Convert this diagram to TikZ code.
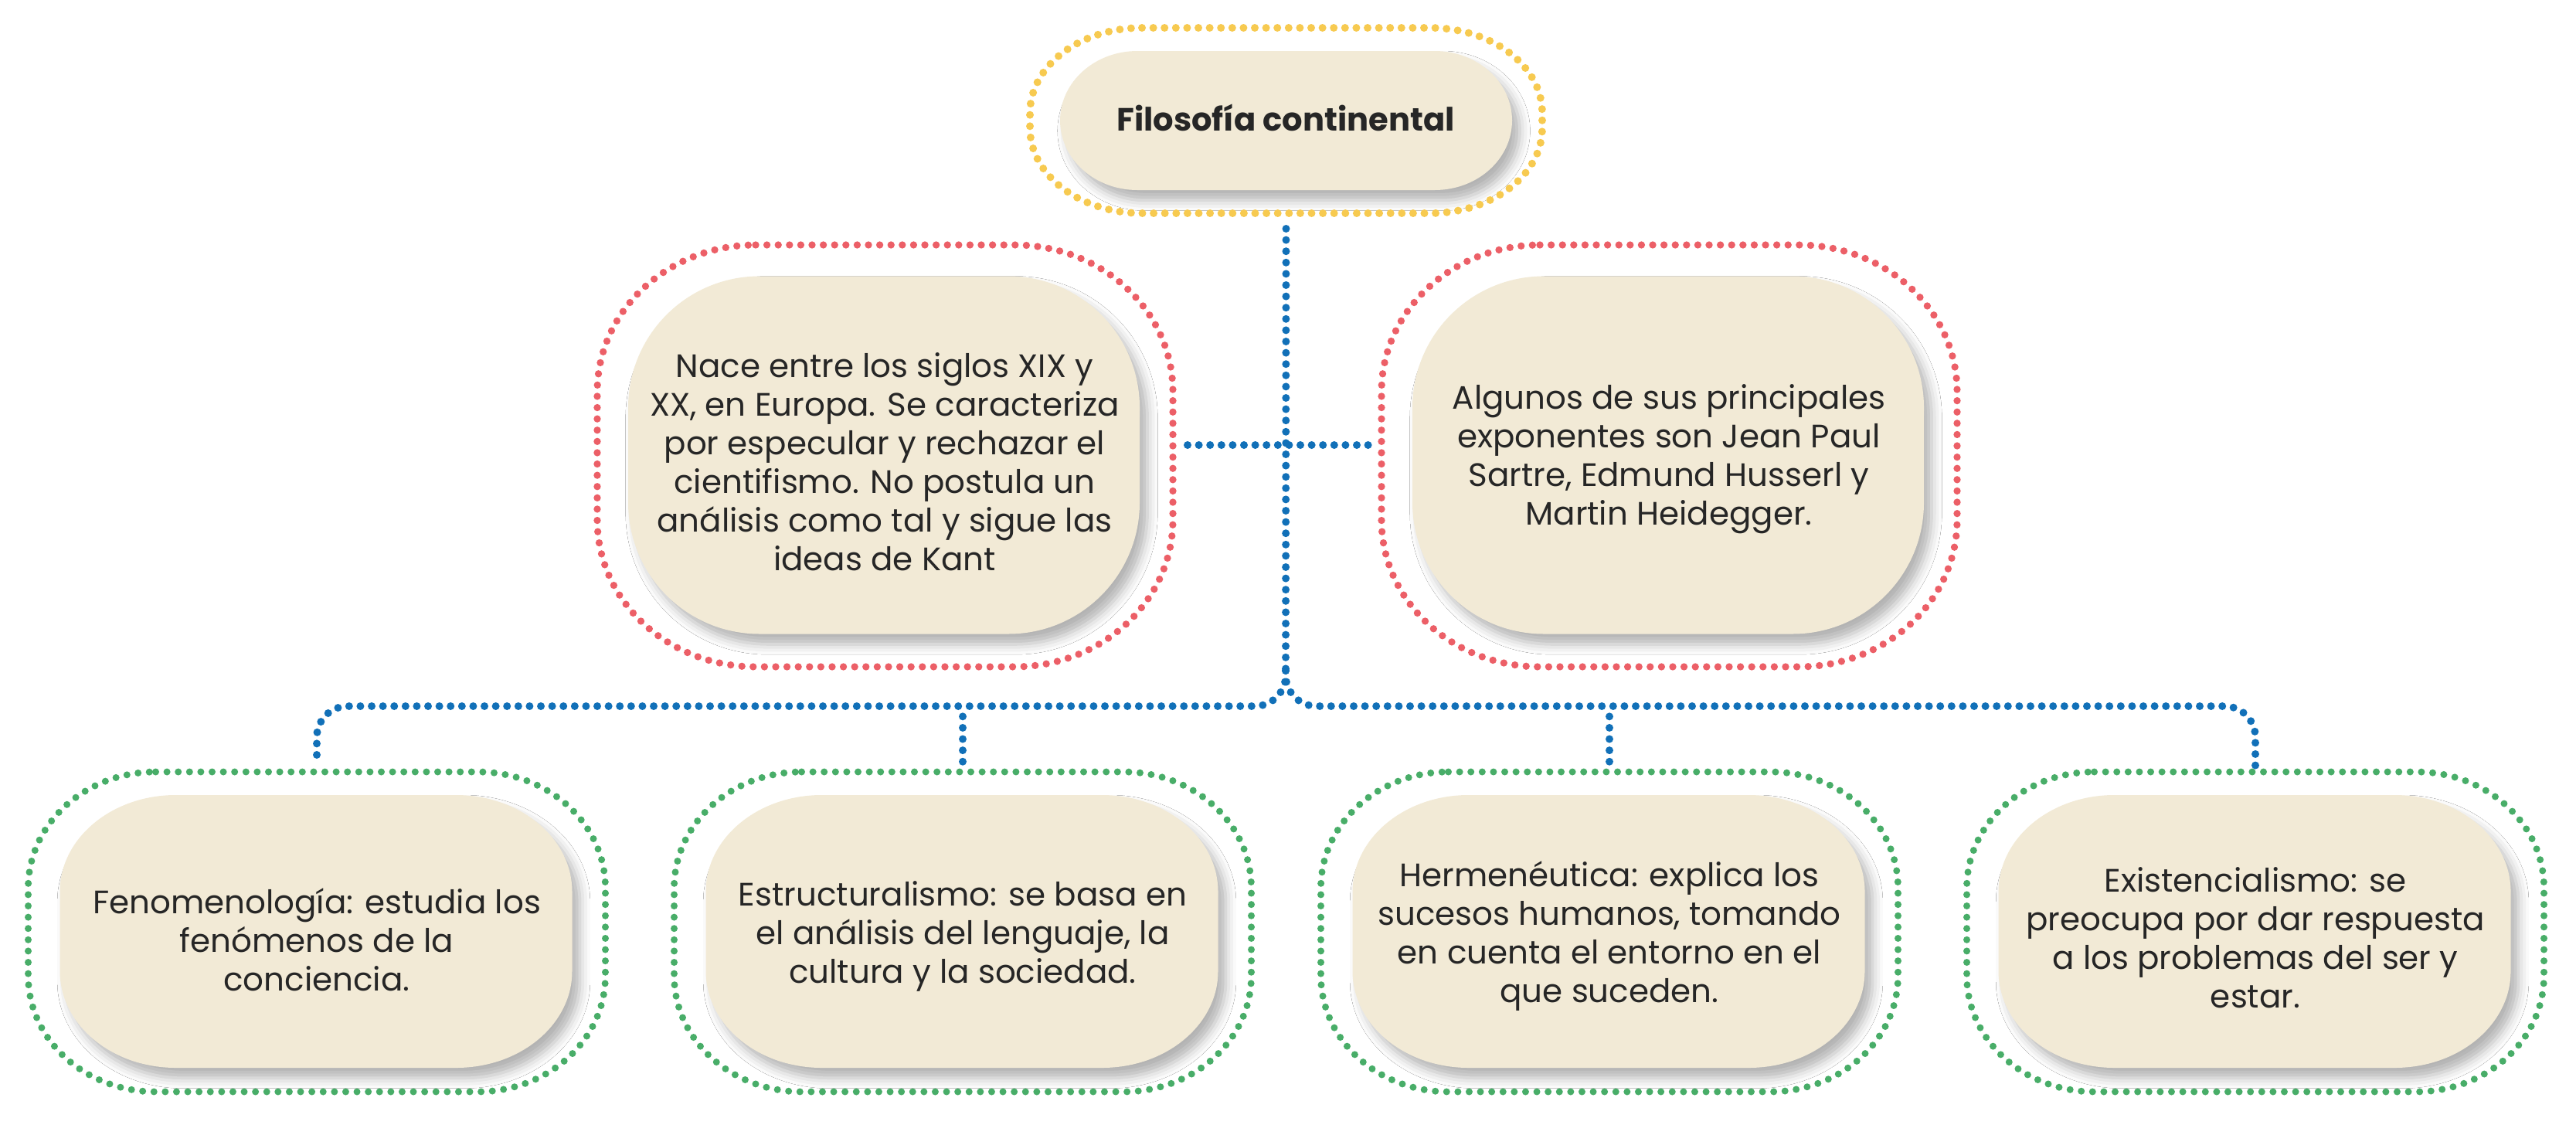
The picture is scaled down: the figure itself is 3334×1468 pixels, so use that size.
\documentclass[tikz,border=0pt]{standalone}
\usepackage{fontspec}
\setmainfont{Poppins}
\usetikzlibrary{shadows.blur}
\def\px{0.3pt}
\definecolor{beige}{HTML}{F2EAD6}
\definecolor{dotyellow}{HTML}{F7CA50}
\definecolor{dotred}{HTML}{EC5F67}
\definecolor{dotblue}{HTML}{1170B8}
\definecolor{dotgreen}{HTML}{48AD68}
\definecolor{txt}{HTML}{262626}
% rounded rectangle with elliptical corners on the bounds of a node
\newcommand{\rr}[3]{%
([xshift=#2*\px]#1.north west) -- ([xshift=-#2*\px]#1.north east)
.. controls ([xshift=-0.4477*#2*\px]#1.north east) and ([yshift=-0.4477*#3*\px]#1.north east) .. ([yshift=-#3*\px]#1.north east)
-- ([yshift=#3*\px]#1.south east)
.. controls ([yshift=0.4477*#3*\px]#1.south east) and ([xshift=-0.4477*#2*\px]#1.south east) .. ([xshift=-#2*\px]#1.south east)
-- ([xshift=#2*\px]#1.south west)
.. controls ([xshift=0.4477*#2*\px]#1.south west) and ([yshift=0.4477*#3*\px]#1.south west) .. ([yshift=#3*\px]#1.south west)
-- ([yshift=-#3*\px]#1.north west)
.. controls ([yshift=-0.4477*#3*\px]#1.north west) and ([xshift=0.4477*#2*\px]#1.north west) .. ([xshift=#2*\px]#1.north west)
-- cycle}
\begin{document}
\begin{tikzpicture}[x=0.3pt,y=0.3pt,
  bounds/.style={inner sep=0pt,outer sep=0pt,draw=none},
  beigefill/.style={fill=beige,blur shadow={shadow xshift=3pt,shadow yshift=-4pt,shadow blur radius=4pt,shadow opacity=30}},
  dotline/.style={line cap=round,dash pattern=on 0pt off 4.38pt,line width=2.8pt},
  ydots/.style={dotline,draw=dotyellow,line width=3pt},
  rdots/.style={dotline,draw=dotred},
  gdots/.style={dotline,draw=dotgreen,line width=2.7pt},
  bdots/.style={dotline,draw=dotblue,line width=3pt},
  body/.style={font=\fontsize{12.6}{15}\selectfont,align=center,text=txt,inner sep=0pt},
  title/.style={font=\fontsize{12.5}{15}\selectfont\bfseries,align=center,text=txt,inner sep=0pt},
  topframe/.style={bounds,minimum width=198.9pt,minimum height=72pt},
  toppill/.style={bounds,minimum width=175.5pt,minimum height=54pt},
  redframe/.style={bounds,minimum width=223.5pt,minimum height=163.8pt},
  redinner/.style={bounds,minimum width=198.6pt,minimum height=138.9pt},
  greenframe/.style={bounds,minimum width=224.1pt,minimum height=124.2pt},
  greeninner/.style={bounds,minimum width=198.9pt,minimum height=105.9pt}]
\useasboundingbox (0,0) rectangle (3334,-1468);
\fill[white] (0,0) rectangle (3334,-1468);

% ---- top node
\node[topframe] (topf) at (1664.5,-156) {};
\node[toppill] (topi) at (1664.5,-156) {};
\path[beigefill] \rr{topi}{100}{90};
\draw[ydots] \rr{topf}{145}{110};
\node[title] (title) at (1664,-152) {Filosofía continental};

% ---- red nodes
\node[redframe] (rf1) at (1145.5,-590) {};
\node[redinner] (ri1) at (1144,-589) {};
\path[beigefill] \rr{ri1}{170}{170};
\draw[rdots] \rr{rf1}{205}{190};
\node[body] (rt1) at (1145,-598) {Nace entre los siglos XIX y\\XX, en Europa. Se caracteriza\\por especular y rechazar el\\cientifismo. No postula un\\análisis como tal y sigue las\\ideas de Kant};

\node[redframe] (rf2) at (2160.5,-590) {};
\node[redinner] (ri2) at (2159,-589) {};
\path[beigefill] \rr{ri2}{170}{170};
\draw[rdots] \rr{rf2}{205}{190};
\node[body] (rt2) at (2160,-594) {Algunos de sus principales\\exponentes son Jean Paul\\Sartre, Edmund Husserl y\\Martin Heidegger.};

% ---- green nodes
\foreach \n/\cx in {1/410,2/1246,3/2083,4/2919}{
  \node[greenframe] (g\n) at (\cx,-1206) {};
  \node[greeninner] (gi\n) at (\cx-1,-1205.5) {};
  \path[beigefill] \rr{gi\n}{150}{125};
  \draw[gdots] \rr{g\n}{165}{150};
}
\node[body] (gt1) at (410,-1216) {Fenomenología: estudia los\\fenómenos de la\\conciencia.};
\node[body] (gt2) at (1246,-1212) {Estructuralismo: se basa en\\el análisis del lenguaje, la\\cultura y la sociedad.};
\node[body] (gt3) at (2083,-1212) {Hermenéutica: explica los\\sucesos humanos, tomando\\en cuenta el entorno en el\\que suceden.};
\node[body] (gt4) at (2919,-1214) {Existencialismo: se\\preocupa por dar respuesta\\a los problemas del ser y\\estar.};

% ---- connectors
\coordinate (j) at (1664,-868);
\coordinate (bus) at (1664,-914);
\coordinate (b2) at (bus -| g2.north);
\coordinate (b3) at (bus -| g3.north);
\draw[bdots] ([yshift=-6pt]topf.south) -- (j);
\draw[bdots,rounded corners=12pt] (j) -- (bus) -- (bus -| g1.north) -- ([yshift=2.4pt]g1.north);
\draw[bdots,rounded corners=12pt] (j) -- (bus) -- (bus -| g4.north) -- ([yshift=2.4pt]g4.north);
\draw[bdots] ([yshift=-4pt]b2) -- ([yshift=3pt]g2.north);
\draw[bdots] ([yshift=-4pt]b3) -- ([yshift=3pt]g3.north);
\draw[bdots] ([shift={(19,14)}]rf1.east) -- ([shift={(-17,14)}]rf2.west);
\end{tikzpicture}
\end{document}
